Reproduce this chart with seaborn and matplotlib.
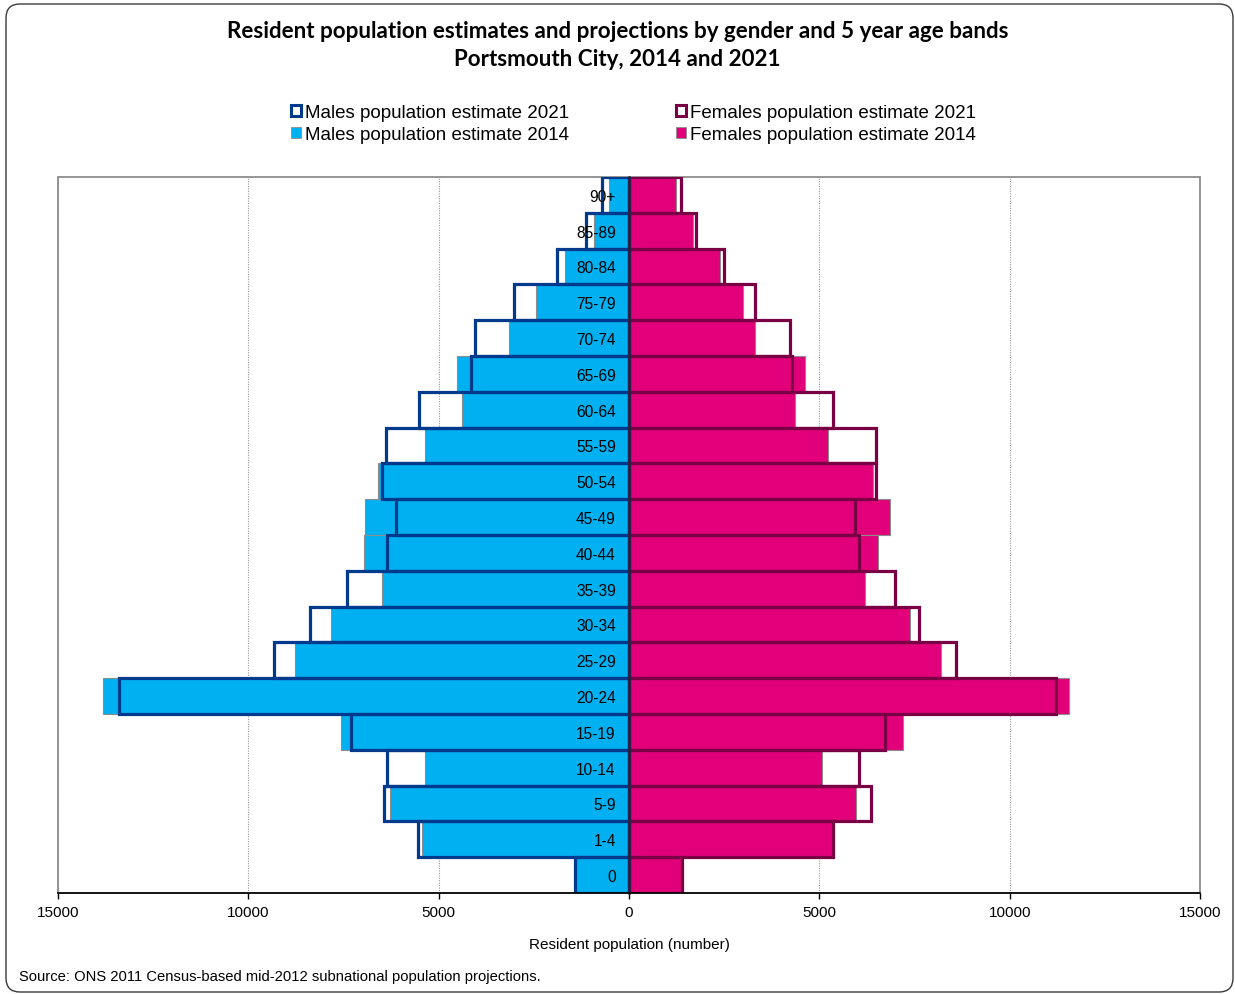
import numpy as np
import pandas as pd
import matplotlib
matplotlib.use("Agg")
import matplotlib.pyplot as plt
import seaborn as sns
from matplotlib.patches import Patch, FancyBboxPatch, Rectangle
from matplotlib.transforms import IdentityTransform
from matplotlib.ticker import FuncFormatter

# Age bands, listed from the oldest (top of the pyramid) to the youngest
ages = ["90+", "85-89", "80-84", "75-79", "70-74", "65-69", "60-64", "55-59",
        "50-54", "45-49", "40-44", "35-39", "30-34", "25-29", "20-24", "15-19",
        "10-14", "5-9", "1-4", "0"]

males_2014 = [520, 930, 1670, 2440, 3140, 4530, 4380, 5370, 6600, 6930,
              6950, 6500, 7820, 8770, 13810, 7570, 5370, 6290, 5440, 1420]
males_2021 = [710, 1140, 1890, 3020, 4050, 4160, 5520, 6390, 6500, 6120,
              6360, 7410, 8380, 9320, 13390, 7290, 6360, 6440, 5530, 1430]
females_2014 = [1235, 1690, 2400, 2985, 3310, 4620, 4360, 5220, 6420, 6850,
                6530, 6190, 7390, 8200, 11570, 7190, 5070, 5960, 5340, 1370]
females_2021 = [1370, 1750, 2490, 3310, 4240, 4270, 5370, 6480, 6500, 5940,
                6030, 7000, 7620, 8580, 11230, 6730, 6030, 6370, 5370, 1390]

x_ticks = [-15000, -10000, -5000, 0, 5000, 10000, 15000]

title_lines = ["Resident population estimates and projections by gender and 5 year age bands",
               "Portsmouth City, 2014 and 2021"]
legend_labels = ["Males population estimate 2021", "Males population estimate 2014",
                 "Females population estimate 2021", "Females population estimate 2014"]
x_label = "Resident population (number)"
source_note = "Source: ONS 2011 Census-based mid-2012 subnational population projections."

MALE_FILL = "#00B0F0"
FEMALE_FILL = "#E2007A"
MALE_LINE = "#003A8C"
FEMALE_LINE = "#7A0045"
BAR_EDGE = "#8C8C8C"
AXIS_COLOR = "#14284B"
FRAME_GREY = "#8C8C8C"

df = pd.DataFrame({
    "age": ages,
    "m14": -np.array(males_2014, dtype=float),
    "m21": -np.array(males_2021, dtype=float),
    "f14": np.array(females_2014, dtype=float),
    "f21": np.array(females_2021, dtype=float),
})

sns.set_style("white")
plt.rcParams["font.family"] = ["Liberation Sans", "DejaVu Sans"]
plt.rcParams["text.color"] = "black"
plt.rcParams["axes.labelcolor"] = "black"
plt.rcParams["xtick.color"] = "black"
plt.rcParams["ytick.color"] = "black"

W, H = 1235, 995
fig = plt.figure(figsize=(W / 100, H / 100), dpi=100)
ax = fig.add_axes([58 / W, 1 - 894 / H, (1200 - 58) / W, (894 - 178) / H])

common = dict(data=df, y="age", order=ages, orient="h", width=1.0,
              errorbar=None, saturation=1, ax=ax)

# 2014 estimates: solid bars
sns.barplot(x="m14", color=MALE_FILL, edgecolor=BAR_EDGE, linewidth=0.8, zorder=2, **common)
sns.barplot(x="f14", color=FEMALE_FILL, edgecolor=BAR_EDGE, linewidth=0.8, zorder=2, **common)
# 2021 projections: open outlines on top
sns.barplot(x="m21", color=MALE_LINE, fill=False, linewidth=2.3, zorder=3, **common)
sns.barplot(x="f21", color=FEMALE_LINE, fill=False, linewidth=2.3, zorder=3, **common)

ax.set_xlim(x_ticks[0], x_ticks[-1])
ax.set_xticks(x_ticks)
ax.xaxis.set_major_formatter(FuncFormatter(lambda v, p: f"{abs(int(v))}"))
ax.set_ylabel("")
ax.set_xlabel(x_label, fontsize=11, labelpad=13, color="black")

# vertical dotted gridlines behind the bars
ax.set_axisbelow(True)
ax.xaxis.grid(True, color="#9A9A9A", linestyle=(0, (1, 1.2)), linewidth=0.8)
ax.yaxis.grid(False)

# category axis runs through zero, labels drawn over the bars
ax.yaxis.set_zorder(6)
for name in ["top", "right"]:
    ax.spines[name].set_visible(False)
ax.spines["left"].set_position(("data", 0))
ax.spines["left"].set_color(AXIS_COLOR)
ax.spines["left"].set_linewidth(1.8)
ax.spines["left"].set_zorder(6)
ax.spines["bottom"].set_color("black")
ax.spines["bottom"].set_linewidth(1.2)
ax.spines["bottom"].set_zorder(6)

ax.set_yticks(np.arange(len(ages) + 1) - 0.5, minor=True)
ax.tick_params(axis="y", which="major", length=0, pad=9.5, labelsize=11.2, labelcolor="black")
ax.tick_params(axis="y", which="minor", direction="inout", length=5, width=1, color=AXIS_COLOR)
ax.tick_params(axis="x", which="major", direction="out", length=4.5, width=1,
               color="black", pad=4, labelsize=11, labelcolor="black", bottom=True)

# grey plot-area border
ax.add_patch(Rectangle((0, 0), 1, 1, transform=ax.transAxes, fill=False,
                       edgecolor=FRAME_GREY, linewidth=1.3, zorder=0.6, clip_on=False))

# titles
fig.text(0.5, 1 - 31 / H, title_lines[0], ha="center", va="center", color="black",
         fontsize=16.1, fontweight="bold", family=["Lato", "DejaVu Sans"])
fig.text(0.5, 1 - 60 / H, title_lines[1], ha="center", va="center", color="black",
         fontsize=16.1, fontweight="bold", family=["Lato", "DejaVu Sans"])

# legend
handles = [
    Patch(facecolor="white", edgecolor=MALE_LINE, linewidth=2.2),
    Patch(facecolor=MALE_FILL, edgecolor=BAR_EDGE, linewidth=0.6),
    Patch(facecolor="white", edgecolor=FEMALE_LINE, linewidth=2.2),
    Patch(facecolor=FEMALE_FILL, edgecolor=BAR_EDGE, linewidth=0.6),
]
leg = fig.legend(handles, legend_labels, ncol=2, loc="center",
                 bbox_to_anchor=(633.5 / W, 1 - 124.5 / H), frameon=False,
                 fontsize=13.5, handlelength=0.55, handleheight=0.55,
                 handletextpad=0.2, columnspacing=5.7, labelspacing=0.28,
                 borderpad=0, borderaxespad=0, labelcolor="black")

fig.text(19 / W, 1 - 977 / H, source_note, ha="left", va="center", fontsize=10.65,
         color="black")

# rounded outer chart frame
fig.add_artist(FancyBboxPatch((6, 2), 1227, 988, boxstyle="round,pad=0,rounding_size=14",
                              transform=IdentityTransform(), fill=False,
                              edgecolor="#3A3A3A", linewidth=1.0))

fig.savefig("out.png", dpi=100)
